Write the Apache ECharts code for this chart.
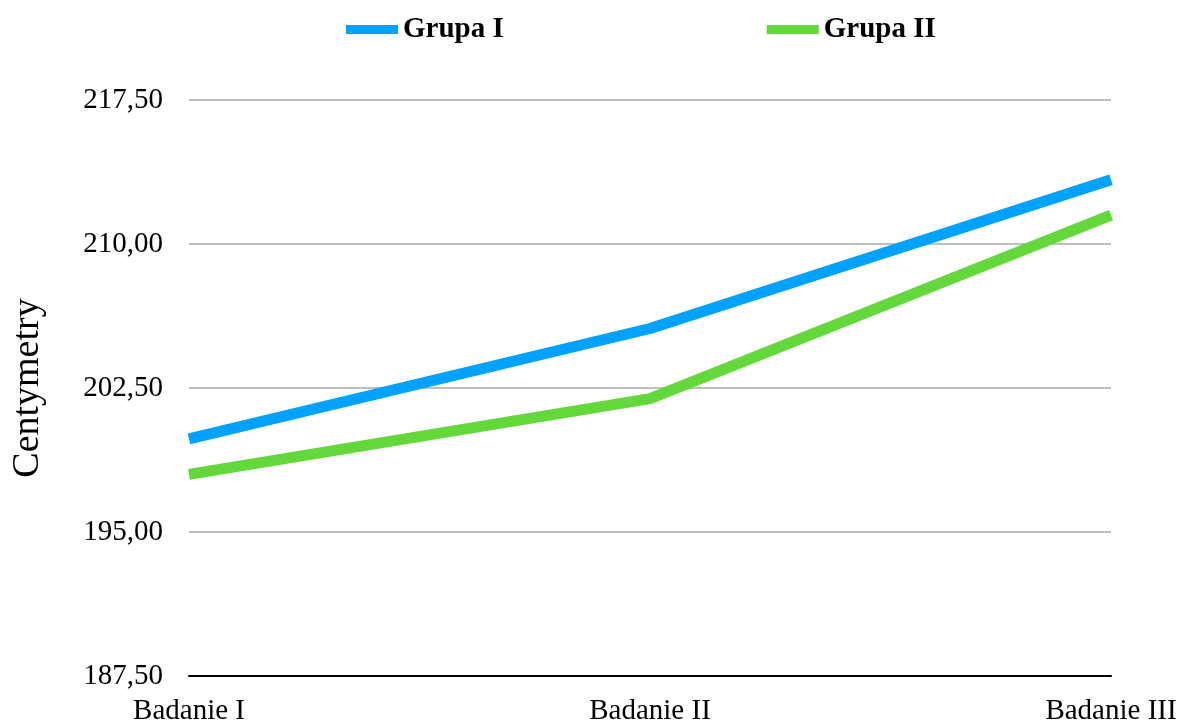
<!DOCTYPE html>
<html>
<head>
<meta charset="utf-8">
<script src="https://cdn.jsdelivr.net/npm/echarts@6/dist/echarts.min.js"></script>
<style>
  html, body { margin: 0; padding: 0; background: #fff; }
  #chart { width: 1181px; height: 722px; }
</style>
</head>
<body>
<div id="chart"></div>
<script>
// Pomiary w trzech badaniach (cm)
const categories = ['Badanie I', 'Badanie II', 'Badanie III'];
const grupaI = [199.85, 205.6, 213.35];
const grupaII = [198.0, 201.95, 211.5];
const seriesNames = ['Grupa I', 'Grupa II'];
const axisName = 'Centymetry';

const chart = echarts.init(document.getElementById('chart'));
const serif = '"Liberation Serif", "DejaVu Serif", serif';

chart.setOption({
  animation: false,
  legend: {
    top: 10,
    left: 341,
    itemWidth: 52,
    itemHeight: 9,
    itemGap: 263,
    icon: 'rect',
    textStyle: { fontFamily: serif, fontWeight: 'bold', fontSize: 29, color: '#000' },
    data: seriesNames
  },
  grid: { left: 189, right: 70, top: 100, bottom: 46, containLabel: false, outerBoundsMode: 'none' },
  xAxis: {
    type: 'category',
    data: categories,
    boundaryGap: false,
    axisLine: { lineStyle: { color: '#000', width: 2 } },
    axisTick: { show: false },
    axisLabel: { fontFamily: serif, fontSize: 29, color: '#000', margin: 21 }
  },
  yAxis: {
    type: 'value',
    min: 187.5,
    max: 217.5,
    interval: 7.5,
    name: axisName,
    nameLocation: 'middle',
    nameGap: 142,
    nameTextStyle: { fontFamily: serif, fontSize: 38, color: '#000' },
    axisLine: { show: false },
    axisTick: { show: false },
    splitLine: { lineStyle: { color: '#bfbfbf', width: 2 } },
    axisLabel: {
      fontFamily: serif, fontSize: 29, color: '#000', margin: 26,
      formatter: v => v.toFixed(2).replace('.', ',')
    }
  },
  series: [
    {
      name: seriesNames[0], type: 'line', data: grupaI,
      symbol: 'none', color: '#00a2ff',
      lineStyle: { width: 11, color: '#00a2ff', cap: 'butt' }
    },
    {
      name: seriesNames[1], type: 'line', data: grupaII,
      symbol: 'none', color: '#62d83a',
      lineStyle: { width: 11, color: '#62d83a', cap: 'butt' }
    }
  ]
});
</script>
</body>
</html>
